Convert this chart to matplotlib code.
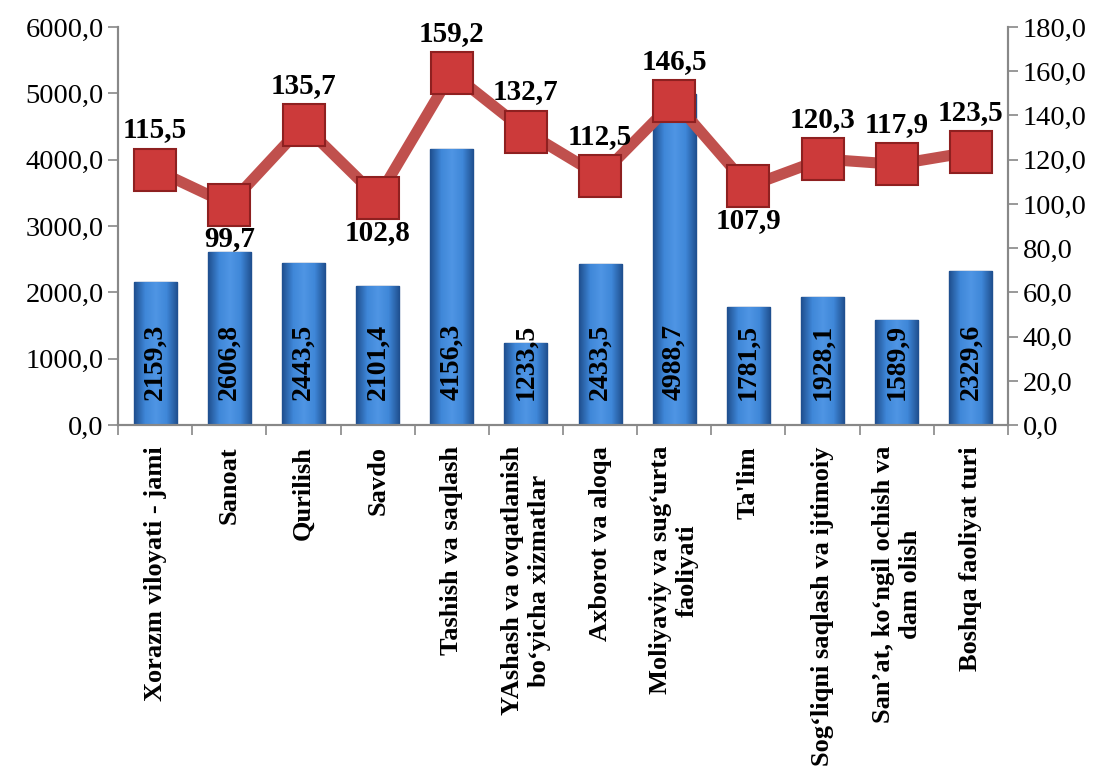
import matplotlib.pyplot as plt
import numpy as np
from matplotlib.ticker import FuncFormatter, FixedLocator
from matplotlib.colors import LinearSegmentedColormap

categories = ['Xorazm viloyati - jami', 'Sanoat', 'Qurilish', 'Savdo',
              'Tashish va saqlash',
              'YAshash va ovqatlanish\nbo\u2018yicha xizmatlar',
              'Axborot va aloqa', 'Moliyaviy va sug\u2018urta\nfaoliyati',
              "Ta'lim", 'Sog\u2018liqni saqlash va ijtimoiy',
              'San\u2019at, ko\u2018ngil ochish va\ndam olish',
              'Boshqa faoliyat turi']
volume = [2159.3, 2606.8, 2443.5, 2101.4, 4156.3, 1233.5,
          2433.5, 4988.7, 1781.5, 1928.1, 1589.9, 2329.6]
growth = [115.5, 99.7, 135.7, 102.8, 159.2, 132.7,
          112.5, 146.5, 107.9, 120.3, 117.9, 123.5]
# labels that sit under the marker
below = [99.7, 102.8, 107.9]

plt.rcParams['font.family'] = ['Liberation Serif', 'DejaVu Serif']

fig = plt.figure(figsize=(11.04, 7.69), dpi=100)
ax = fig.add_axes([0.107, 0.447, 0.806, 0.518])
ax2 = ax.twinx()

x = np.arange(len(categories))
bars = ax.bar(x, volume, width=0.58, color='#3a7cc9', edgecolor='#24508a',
              linewidth=1.0, zorder=2)

# horizontal shading on each bar
cmap = LinearSegmentedColormap.from_list('bb', ['#1f4f8f', '#3f87d8', '#4f95e4', '#3f87d8', '#1f4f8f'])
grad = np.linspace(0, 1, 64).reshape(1, -1)
for b in bars:
    x0, w, h = b.get_x(), b.get_width(), b.get_height()
    im = ax.imshow(grad, extent=[x0, x0 + w, 0, h], aspect='auto', cmap=cmap,
                   zorder=2.5, origin='lower')
    im.set_clip_path(b)

for xi, v in zip(x, volume):
    ax.text(xi, 380, f'{v:.1f}'.replace('.', ','), rotation=90, ha='center',
            va='bottom', fontsize=20, fontweight='bold', color='black', zorder=4)

ax.set_xlim(-0.5, len(categories) - 0.5)
ax.set_ylim(0, 6000)
ax.set_yticks(np.arange(0, 6001, 1000))
ax2.set_ylim(0, 180)
ax2.set_yticks(np.arange(0, 181, 20))
fmt = FuncFormatter(lambda v, p: f'{v:.1f}'.replace('.', ','))
ax.yaxis.set_major_formatter(fmt)
ax2.yaxis.set_major_formatter(fmt)

ax2.plot(x, growth, color='#c0504d', lw=8, marker='s', markersize=30,
         markerfacecolor='#cc3a3a', markeredgecolor='#8e2020', markeredgewidth=1.5,
         zorder=5)
for xi, g in zip(x, growth):
    dy = -15 if g in below else 19
    ax2.annotate(f'{g:.1f}'.replace('.', ','), (xi, g), xytext=(0, dy),
                 textcoords='offset points', ha='center',
                 va='top' if g in below else 'bottom', fontsize=21,
                 fontweight='bold', zorder=6)

# category labels
ax.set_xticks(x)
ax.set_xticklabels(categories, rotation=90, fontsize=19, fontweight='bold',
                   ha='center', va='top', multialignment='center',
                   linespacing=1.2)
ax.tick_params(axis='x', length=0, pad=15)
ax.xaxis.set_minor_locator(FixedLocator(np.arange(-0.5, len(categories), 1)))
ax.tick_params(axis='x', which='minor', length=7, width=1.2, color='#888888', direction='out')

for a in (ax, ax2):
    for s in a.spines.values():
        s.set_color('#888888')
        s.set_linewidth(1.5)
    a.spines['top'].set_visible(False)
ax.tick_params(axis='y', labelsize=20.5, length=7, width=1.2, color='#888888')
ax2.tick_params(axis='y', labelsize=20.5, length=7, width=1.2, color='#888888')

fig.savefig('out.png', dpi=100)
